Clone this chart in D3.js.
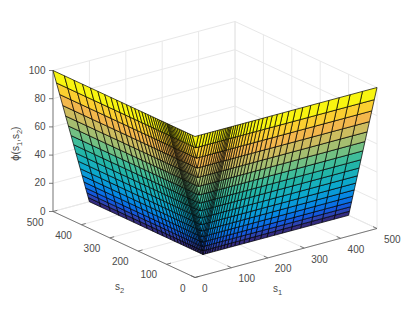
<!DOCTYPE html>
<html>
<head>
<meta charset="utf-8">
<script src="https://cdn.jsdelivr.net/npm/d3@7"></script>
<style>
html, body { margin: 0; padding: 0; background: #fff; }
svg { display: block; }
text { font-family: "Liberation Sans", Arial, sans-serif; font-size: 10px; fill: #4a4a4a; }
</style>
</head>
<body>
<svg id="chart" width="415" height="312"></svg>
<script>
var s1Ticks = [0, 100, 200, 300, 400, 500];
var s2Ticks = [0, 100, 200, 300, 400, 500];
var zTicks = [0, 20, 40, 60, 80, 100];

// mesh positions, shared by s1 and s2
var gridS = [0, 9.5, 18.3, 26.7, 34.7, 42.3, 49.6, 56.5, 63, 69.1, 74.8, 80.1, 85, 89.5, 93.3, 96.8,
    100, 106, 112, 118, 125, 132, 140, 148, 157, 166, 176, 187, 199, 212, 226, 241, 258, 276, 296,
    318, 342, 368, 396, 426, 460, 500];
// phi at the first 16 mesh positions, zero from there on
var phiRows = [100, 90.5, 81.7, 73.3, 65.3, 57.7, 50.4, 43.5, 37, 30.9, 25.2, 19.9, 15, 10.5, 6.7, 3.2];
var rowColors = ["#f8f510", "#fbcf30", "#f3b74c", "#cdbc5f", "#a5be70", "#72c083", "#3fbd9a", "#22b5a8",
    "#18b0bc", "#0ca8cc", "#0a9ad8", "#0688e4", "#0a70e4", "#1458dc", "#2c44b4", "#342c80"];

var s1X = d3.scaleLinear().domain([0, 500]).range([195, 377]);
var s1Y = d3.scaleLinear().domain([0, 500]).range([277.5, 228.5]);
var s2X = d3.scaleLinear().domain([0, 500]).range([0, -142]);
var s2Y = d3.scaleLinear().domain([0, 500]).range([0, -66]);
var zY = d3.scaleLinear().domain([0, 100]).range([0, -141]);

function project(s1, s2, z) {
    return [s1X(s1) + s2X(s2), s1Y(s1) + s2Y(s2) + zY(z)];
}

function phiAt(i, j) {
    var k = Math.min(i, j);
    return k < phiRows.length ? phiRows[k] : 0;
}

var svg = d3.select("#chart");
var line = d3.line();

function seg(a, b) {
    return line([project(a[0], a[1], a[2]), project(b[0], b[1], b[2])]);
}

// grid on floor and back walls
var gridG = svg.append("g").attr("fill", "none").attr("stroke", "#e8e8e8").attr("stroke-width", 1);
s1Ticks.forEach(function(t) {
    gridG.append("path").attr("d", seg([t, 0, 0], [t, 500, 0]));
    gridG.append("path").attr("d", seg([t, 500, 0], [t, 500, 100]));
});
s2Ticks.forEach(function(t) {
    gridG.append("path").attr("d", seg([0, t, 0], [500, t, 0]));
    gridG.append("path").attr("d", seg([500, t, 0], [500, t, 100]));
});
zTicks.forEach(function(t) {
    gridG.append("path").attr("d", seg([0, 500, t], [500, 500, t]));
    gridG.append("path").attr("d", seg([500, 500, t], [500, 0, t]));
});

// axes
var axisG = svg.append("g").attr("fill", "none").attr("stroke", "#5a5a5a").attr("stroke-width", 0.8);
axisG.append("path").attr("d", seg([0, 0, 0], [500, 0, 0]));
axisG.append("path").attr("d", seg([0, 0, 0], [0, 500, 0]));
axisG.append("path").attr("d", seg([0, 500, 0], [0, 500, 100])).attr("stroke", "#a0a0a0").attr("stroke-width", 1.4);
s1Ticks.forEach(function(t) {
    axisG.append("path").attr("d", seg([t, 0, 0], [t, 14, 0]));
});
s2Ticks.forEach(function(t) {
    axisG.append("path").attr("d", seg([0, t, 0], [12, t, 0]));
});
zTicks.forEach(function(t) {
    var p = project(0, 500, t);
    axisG.append("path").attr("d", line([[p[0] - 4, p[1]], p]));
});

// surface, back to front
var cells = [];
for (var i = 0; i < gridS.length - 1; i++) {
    for (var j = 0; j < gridS.length - 1; j++) {
        if (Math.min(i, j) < phiRows.length) cells.push([i, j]);
    }
}
cells.sort(function(a, b) { return (b[0] + b[1]) - (a[0] + a[1]); });

function corner(i, j) {
    return project(gridS[i], gridS[j], phiAt(i, j));
}

svg.append("g").selectAll("path").data(cells).enter().append("path")
    .attr("d", function(d) {
        var i = d[0], j = d[1];
        return line([corner(i, j), corner(i + 1, j), corner(i + 1, j + 1), corner(i, j + 1)]) + "Z";
    })
    .attr("fill", function(d) { return rowColors[Math.min(d[0], d[1])]; })
    .attr("stroke", "#000")
    .attr("stroke-width", 0.7)
    .attr("stroke-linejoin", "round");

// tick labels
zTicks.forEach(function(t) {
    var p = project(0, 500, t);
    svg.append("text").attr("x", p[0] - 7.5).attr("y", p[1] + 3).attr("text-anchor", "end").text(t);
});
s1Ticks.forEach(function(t) {
    var p = project(t, 0, 0);
    svg.append("text").attr("x", p[0] + 7).attr("y", p[1] + 14.5).text(t);
});
s2Ticks.forEach(function(t) {
    var p = project(0, t, 0);
    svg.append("text").attr("x", p[0] - 9.5).attr("y", p[1] + 14).attr("text-anchor", "end").text(t);
});

// axis titles
function sub(el, base, low) {
    el.append("tspan").text(base);
    el.append("tspan").attr("dy", 3).style("font-size", "7.5px").text(low);
}
sub(svg.append("text").attr("x", 273).attr("y", 292), "s", "1");
sub(svg.append("text").attr("x", 115).attr("y", 290), "s", "2");

var phiLabel = svg.append("text").attr("transform", "translate(19,161) rotate(-90)");
phiLabel.append("tspan").style("font-family", "DejaVu Sans").style("font-size", "10px").text("\u03d5");
phiLabel.append("tspan").text("(s");
phiLabel.append("tspan").attr("dy", 3).style("font-size", "7.5px").text("1");
phiLabel.append("tspan").attr("dy", -3).text(",s");
phiLabel.append("tspan").attr("dy", 3).style("font-size", "7.5px").text("2");
phiLabel.append("tspan").attr("dy", -3).text(")");
</script>
</body>
</html>
